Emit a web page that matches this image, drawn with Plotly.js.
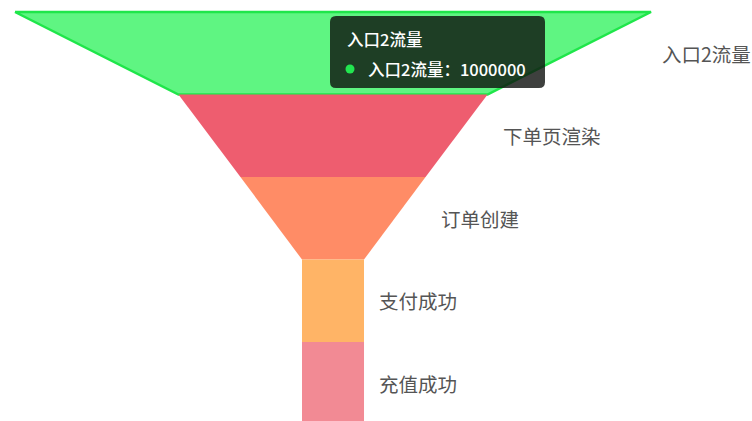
<!DOCTYPE html>
<html><head><meta charset="utf-8">
<script src="https://cdn.plot.ly/plotly-3.0.1.min.js"></script>
<style>html,body{margin:0;padding:0;background:#fff;overflow:hidden}#chart{width:752px;height:421px}</style>
</head><body><div id="chart"></div>
<script>
// ---- data ----
const stages = ['入口2流量', '下单页渲染', '订单创建', '支付成功', '充值成功'];
const values = [1000000, 486000, 291000, 80000, 50000];
const colors = ['#5ff582', '#ee5d6f', '#ff8c66', '#ffb466', '#f28a94'];
const highlighted = 0; // stage shown with hover emphasis + tooltip

// ---- layout constants (pixels) ----
const W = 752, H = 421;
const cx = 333, fullPx = 636;   // funnel centre and full width
const topPx = 12, stepPx = 82.5; // funnel top and piece height
const minFrac = 0.0975;

const vmax = Math.max(...values);
const width = v => Math.max(v / vmax, minFrac) * vmax;

const traces = [];
const annotations = [];
stages.forEach((s, i) => {
  const wt = width(values[i]);
  const wb = i + 1 < values.length ? width(values[i + 1]) : width(0);
  const hl = i === highlighted;
  traces.push({
    type: 'scatter', mode: 'lines', fill: 'toself',
    x: [-wt / 2, wt / 2, wb / 2, -wb / 2, -wt / 2],
    y: [i, i, i + 1, i + 1, i],
    fillcolor: colors[i],
    line: {color: hl ? '#1fe64a' : colors[i], width: hl ? 2.5 : 0},
    hoverinfo: 'skip', showlegend: false
  });
  annotations.push({
    x: wt / 2, y: i + 0.5, xref: 'x', yref: 'y',
    xanchor: 'left', yanchor: 'middle', xshift: i === 0 ? 9 : 13,
    text: s, showarrow: false,
    font: {family: 'Noto Sans CJK SC', size: 19.5, color: '#555555'}
  });
});

// tooltip for highlighted stage
const tip = {x0: 330, x1: 545, y0: 16, y1: 88, r: 6};
const px = x => x / W, py = y => 1 - y / H;
const rx = tip.r / W, ry = tip.r / H;
const X0 = px(tip.x0), X1 = px(tip.x1), Y0 = py(tip.y0), Y1 = py(tip.y1);
const path = `M ${X0 + rx} ${Y0} L ${X1 - rx} ${Y0} Q ${X1} ${Y0} ${X1} ${Y0 - ry} ` +
  `L ${X1} ${Y1 + ry} Q ${X1} ${Y1} ${X1 - rx} ${Y1} L ${X0 + rx} ${Y1} ` +
  `Q ${X0} ${Y1} ${X0} ${Y1 + ry} L ${X0} ${Y0 - ry} Q ${X0} ${Y0} ${X0 + rx} ${Y0} Z`;
const shapes = [{
  type: 'path', xref: 'paper', yref: 'paper', path: path,
  fillcolor: 'rgba(14,16,14,0.8)', line: {width: 0}, layer: 'above'
}, {
  type: 'circle', xref: 'paper', yref: 'paper',
  x0: px(345.5), x1: px(354.5), y0: py(64.5), y1: py(73.5),
  fillcolor: '#22e650', line: {width: 0}, layer: 'above'
}];
const tipFont = {family: 'Noto Sans CJK SC', size: 16.5, color: '#ffffff', weight: 500};
annotations.push({
  x: px(345), y: py(39), xref: 'paper', yref: 'paper', xanchor: 'left', yanchor: 'middle',
  text: stages[highlighted], showarrow: false, font: tipFont
});
annotations.push({
  x: px(366), y: py(69), xref: 'paper', yref: 'paper', xanchor: 'left', yanchor: 'middle',
  text: stages[highlighted] + '：' + values[highlighted], showarrow: false, font: tipFont
});

const layout = {
  width: W, height: H,
  margin: {l: 0, r: 0, t: 0, b: 0},
  paper_bgcolor: '#fff', plot_bgcolor: '#fff',
  xaxis: {range: [(0 - cx) / fullPx * vmax, (W - cx) / fullPx * vmax], visible: false, fixedrange: true},
  yaxis: {range: [(H - topPx) / stepPx, -topPx / stepPx], visible: false, fixedrange: true},
  shapes: shapes, annotations: annotations, showlegend: false
};
Plotly.newPlot('chart', traces, layout, {displayModeBar: false, staticPlot: true});
</script></body></html>
